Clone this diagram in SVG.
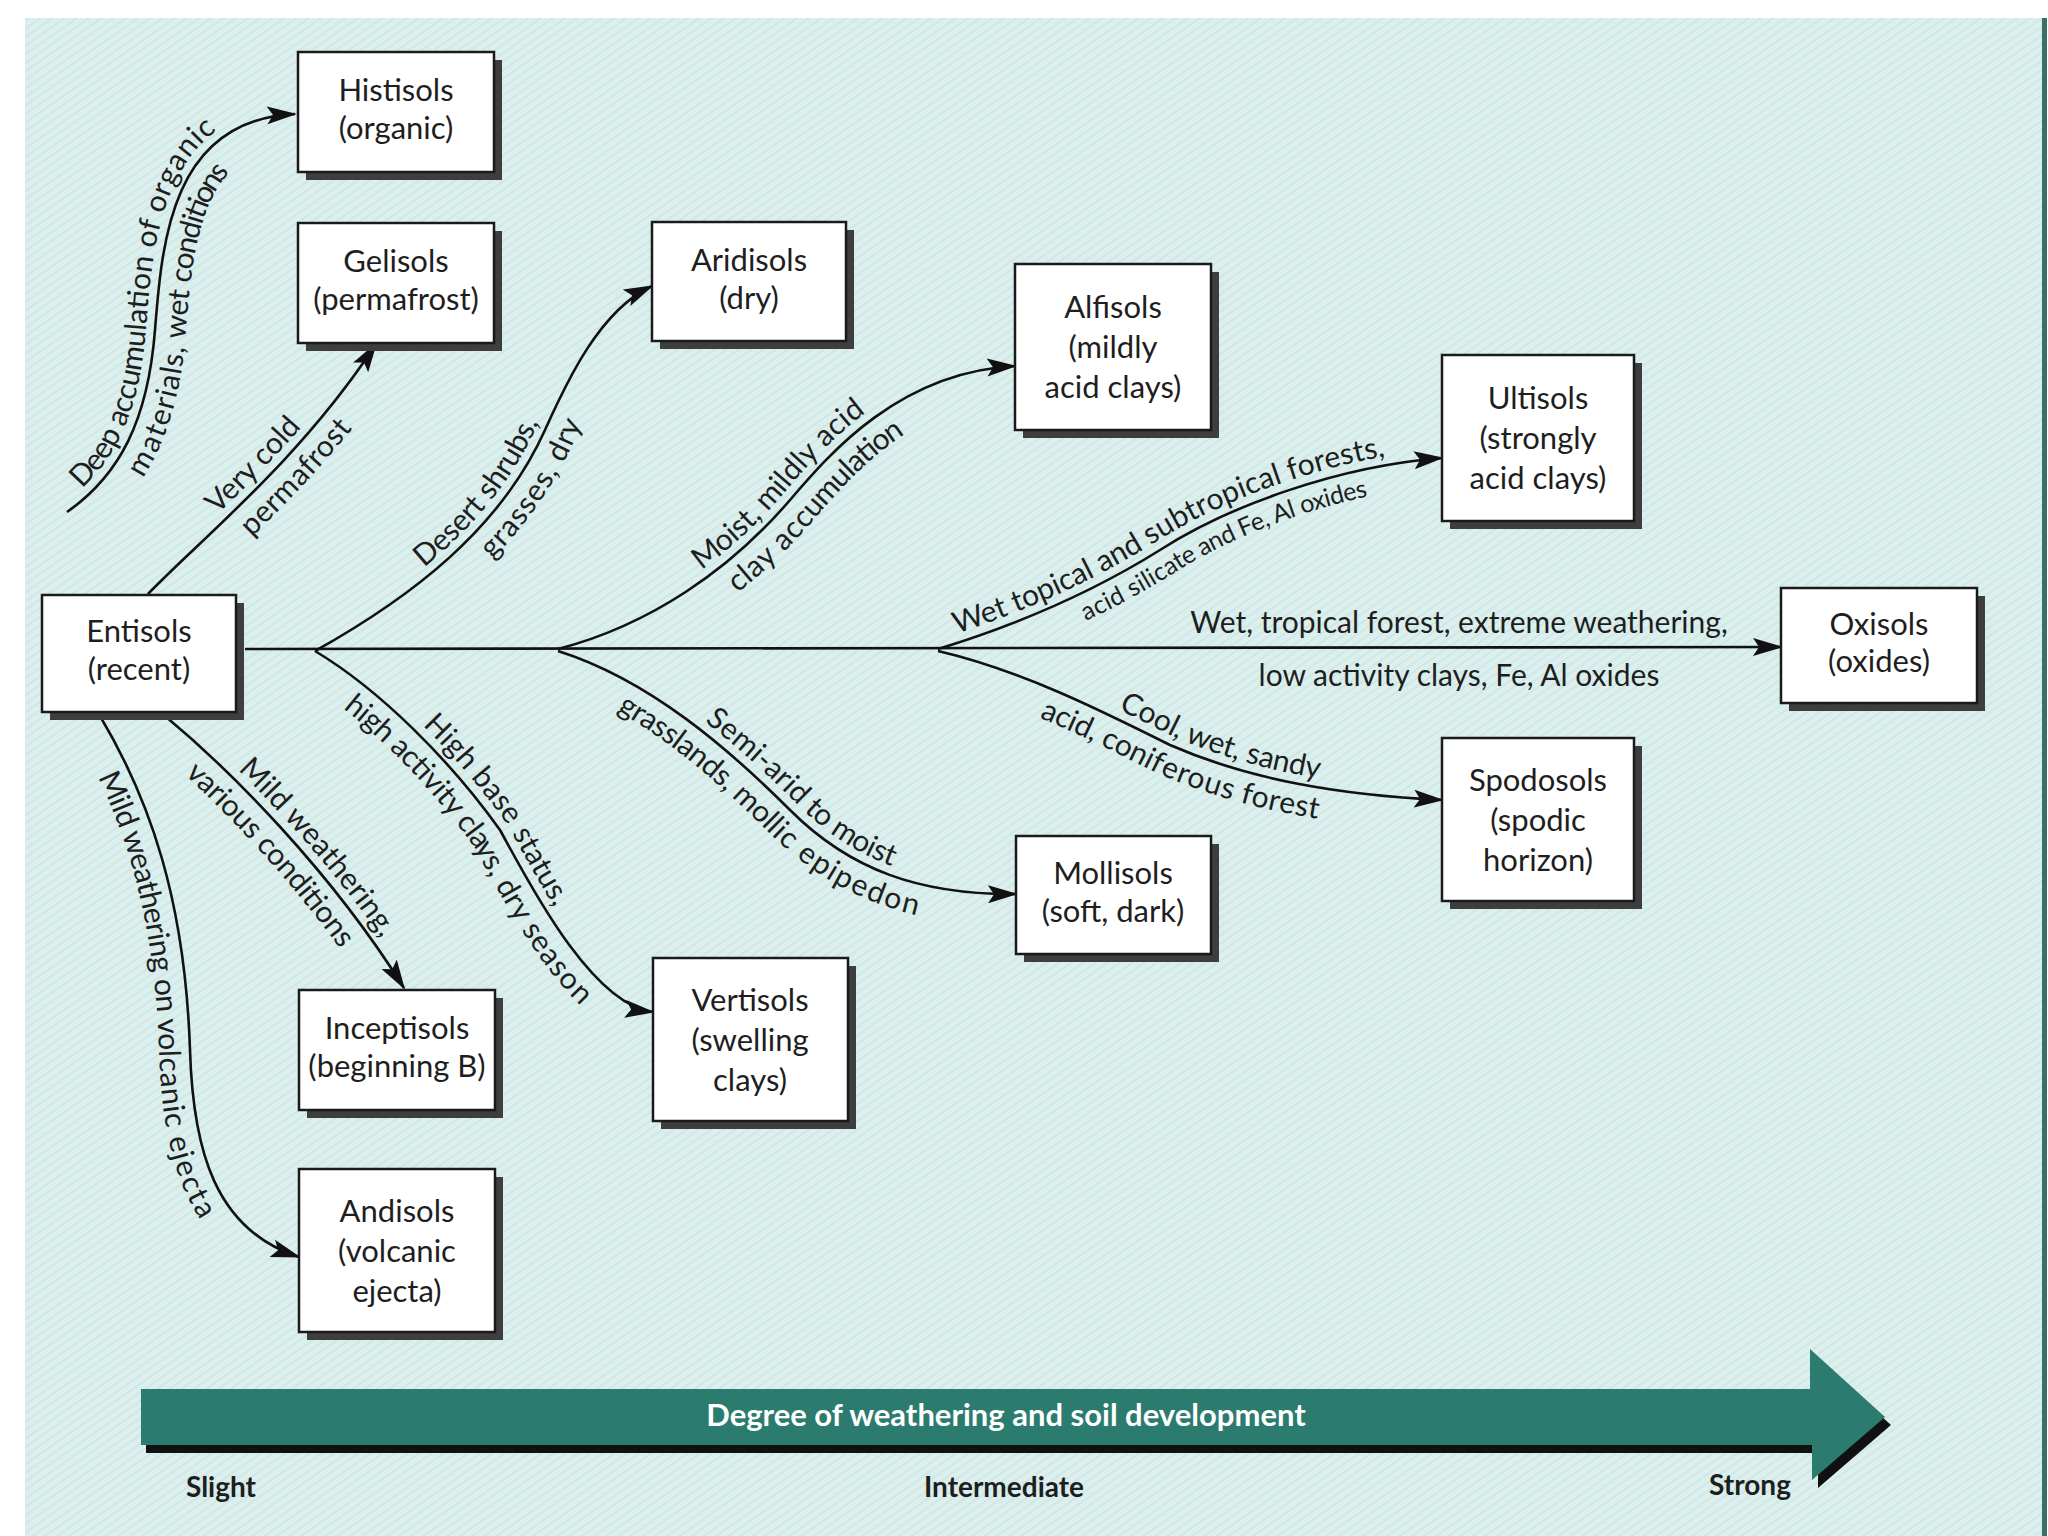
<svg xmlns="http://www.w3.org/2000/svg" width="2048" height="1536" viewBox="0 0 2048 1536">
<defs>
<pattern id="hatch" width="7" height="7" patternUnits="userSpaceOnUse" patternTransform="rotate(-35)">
<rect width="7" height="7" fill="#dbf0ee"/>
<line x1="0" y1="3" x2="7" y2="3" stroke="#cbe1de" stroke-width="1.2"/>
</pattern>
<marker id="ah" markerUnits="userSpaceOnUse" markerWidth="30" markerHeight="20" refX="28" refY="10" orient="auto">
<path d="M0,1 L30,10 L0,19 L6,10 Z" fill="#111"/>
</marker>
<style>
.s{fill:#3e3e3e}
.b{fill:#fff;stroke:#1a1a1a;stroke-width:2.5}
.bt{font-family:Lato,"Open Sans","Liberation Sans",sans-serif;font-size:31px;fill:#1e1e1e;text-anchor:middle}
.conn path{fill:none;stroke:#111;stroke-width:2.6;marker-end:url(#ah)}
.lbl{font-family:Lato,"Open Sans","Liberation Sans",sans-serif;font-size:30px;fill:#1e1e1e;text-anchor:middle}
.sm{font-size:25px}
.scale{font-family:Lato,"Open Sans","Liberation Sans",sans-serif;font-size:28px;font-weight:bold;fill:#1e1e1e;text-anchor:middle}
</style>
</defs>

<rect x="0" y="0" width="2048" height="1536" fill="#ffffff"/>
<rect x="25" y="18" width="2019" height="1518" fill="url(#hatch)"/>
<rect x="2042" y="18" width="5" height="1518" fill="#3c6f66"/>

<g id="connectors" class="conn">
<path id="p-trunk" d="M245,649 L1781,647"/>
<path id="p-hist" d="M67,512 C120,475 148,420 155,330 C162,240 172,120 295,114"/>
<path id="p-geli" d="M148,594 C200,540 300,460 376,344"/>
<path id="p-arid" d="M315,651 C410,598 500,530 545,430 C567,381 600,310 652,286"/>
<path id="p-vert" d="M315,651 C380,690 450,760 500,830 C525,875 590,1005 653,1012"/>
<path id="p-alfi" d="M558,649 C650,625 730,570 790,500 C830,453 900,372 1015,366"/>
<path id="p-moll" d="M558,651 C650,680 730,750 790,810 C850,870 920,895 1016,894"/>
<path id="p-ulti" d="M938,649 C1000,630 1080,600 1160,550 C1230,505 1340,466 1442,458"/>
<path id="p-spod" d="M938,651 C1020,670 1100,710 1170,745 C1250,780 1340,795 1442,800"/>
<path id="p-incp" d="M165,716 C230,770 330,870 404,988"/>
<path id="p-andi" d="M100,716 C150,800 185,900 190,1050 C193,1150 215,1230 299,1257"/>
</g>

<g id="labels">
<text class="lbl" dy="-9"><textPath href="#p-hist" startOffset="45%">Deep accumulation of organic</textPath></text>
<text class="lbl" dy="31"><textPath href="#p-hist" startOffset="47%">materials, wet conditions</textPath></text>
<text class="lbl" dy="-9"><textPath href="#p-geli" startOffset="49%">Very cold</textPath></text>
<text class="lbl" dy="31"><textPath href="#p-geli" startOffset="55%">permafrost</textPath></text>
<text class="lbl" dy="-9"><textPath href="#p-arid" startOffset="46%">Desert shrubs,</textPath></text>
<text class="lbl" dy="31"><textPath href="#p-arid" startOffset="53%">grasses, dry</textPath></text>
<text class="lbl" dy="-9"><textPath href="#p-alfi" startOffset="51%">Moist, mildly acid</textPath></text>
<text class="lbl" dy="31"><textPath href="#p-alfi" startOffset="54%">clay accumulation</textPath></text>
<text class="lbl" dy="-9"><textPath href="#p-ulti" startOffset="47%">Wet topical and subtropical forests,</textPath></text>
<text class="lbl sm" dy="27"><textPath href="#p-ulti" startOffset="56%">acid silicate and Fe, Al oxides</textPath></text>
<text class="lbl" x="1459" y="633">Wet, tropical forest, extreme weathering,</text>
<text class="lbl" x="1459" y="686">low activity clays, Fe, Al oxides</text>
<text class="lbl" dy="-9"><textPath href="#p-spod" startOffset="56%">Cool, wet, sandy</textPath></text>
<text class="lbl" dy="31"><textPath href="#p-spod" startOffset="50%">acid, coniferous forest</textPath></text>
<text class="lbl" dy="-9"><textPath href="#p-moll" startOffset="53%">Semi-arid to moist</textPath></text>
<text class="lbl" dy="31"><textPath href="#p-moll" startOffset="49%">grasslands, mollic epipedon</textPath></text>
<text class="lbl" dy="-9"><textPath href="#p-vert" startOffset="48%">High base status,</textPath></text>
<text class="lbl" dy="31"><textPath href="#p-vert" startOffset="50%">high activity clays, dry season</textPath></text>
<text class="lbl" dy="-9"><textPath href="#p-incp" startOffset="55%">Mild weathering,</textPath></text>
<text class="lbl" dy="31"><textPath href="#p-incp" startOffset="48%">various conditions</textPath></text>
<text class="lbl" dy="31"><textPath href="#p-andi" startOffset="47%">Mild weathering on volcanic ejecta</textPath></text>
</g>

<g id="histisols"><rect class="s" x="306" y="60" width="196" height="120"/><rect class="b" x="298" y="52" width="196" height="120"/><text class="bt" x="396" y="101">Histisols</text><text class="bt" x="396" y="139">(organic)</text></g>
<g id="gelisols"><rect class="s" x="306" y="231" width="196" height="120"/><rect class="b" x="298" y="223" width="196" height="120"/><text class="bt" x="396" y="272">Gelisols</text><text class="bt" x="396" y="310">(permafrost)</text></g>
<g id="aridisols"><rect class="s" x="660" y="230" width="194" height="119"/><rect class="b" x="652" y="222" width="194" height="119"/><text class="bt" x="749" y="271">Aridisols</text><text class="bt" x="749" y="309">(dry)</text></g>
<g id="alfisols"><rect class="s" x="1023" y="272" width="196" height="166"/><rect class="b" x="1015" y="264" width="196" height="166"/><text class="bt" x="1113" y="318">Alfisols</text><text class="bt" x="1113" y="358">(mildly</text><text class="bt" x="1113" y="398">acid clays)</text></g>
<g id="ultisols"><rect class="s" x="1450" y="363" width="192" height="166"/><rect class="b" x="1442" y="355" width="192" height="166"/><text class="bt" x="1538" y="409">Ultisols</text><text class="bt" x="1538" y="449">(strongly</text><text class="bt" x="1538" y="489">acid clays)</text></g>
<g id="oxisols"><rect class="s" x="1789" y="596" width="196" height="115"/><rect class="b" x="1781" y="588" width="196" height="115"/><text class="bt" x="1879" y="635">Oxisols</text><text class="bt" x="1879" y="672">(oxides)</text></g>
<g id="entisols"><rect class="s" x="50" y="603" width="194" height="117"/><rect class="b" x="42" y="595" width="194" height="117"/><text class="bt" x="139" y="642">Entisols</text><text class="bt" x="139" y="680">(recent)</text></g>
<g id="spodosols"><rect class="s" x="1450" y="746" width="192" height="163"/><rect class="b" x="1442" y="738" width="192" height="163"/><text class="bt" x="1538" y="791">Spodosols</text><text class="bt" x="1538" y="831">(spodic</text><text class="bt" x="1538" y="871">horizon)</text></g>
<g id="mollisols"><rect class="s" x="1024" y="844" width="195" height="118"/><rect class="b" x="1016" y="836" width="195" height="118"/><text class="bt" x="1113" y="884">Mollisols</text><text class="bt" x="1113" y="922">(soft, dark)</text></g>
<g id="vertisols"><rect class="s" x="661" y="966" width="195" height="163"/><rect class="b" x="653" y="958" width="195" height="163"/><text class="bt" x="750" y="1011">Vertisols</text><text class="bt" x="750" y="1051">(swelling</text><text class="bt" x="750" y="1091">clays)</text></g>
<g id="inceptisols"><rect class="s" x="307" y="998" width="196" height="120"/><rect class="b" x="299" y="990" width="196" height="120"/><text class="bt" x="397" y="1039">Inceptisols</text><text class="bt" x="397" y="1077">(beginning B)</text></g>
<g id="andisols"><rect class="s" x="307" y="1177" width="196" height="163"/><rect class="b" x="299" y="1169" width="196" height="163"/><text class="bt" x="397" y="1222">Andisols</text><text class="bt" x="397" y="1262">(volcanic</text><text class="bt" x="397" y="1302">ejecta)</text></g>

<g id="scale-arrow">
<polygon points="146,1397 1815,1397 1815,1357 1891,1425 1818,1488 1818,1453 146,1453" fill="#111"/>
<polygon points="141,1389 1810,1389 1810,1349 1885,1417 1812,1480 1812,1445 141,1445" fill="#2b7b6f"/>
<text x="1006" y="1426" font-family="Lato,'Open Sans','Liberation Sans',sans-serif" font-size="31" font-weight="bold" fill="#ffffff" text-anchor="middle">Degree of weathering and soil development</text>
<text class="scale" x="221" y="1497">Slight</text>
<text class="scale" x="1004" y="1497">Intermediate</text>
<text class="scale" x="1750" y="1495">Strong</text>
</g>
</svg>
